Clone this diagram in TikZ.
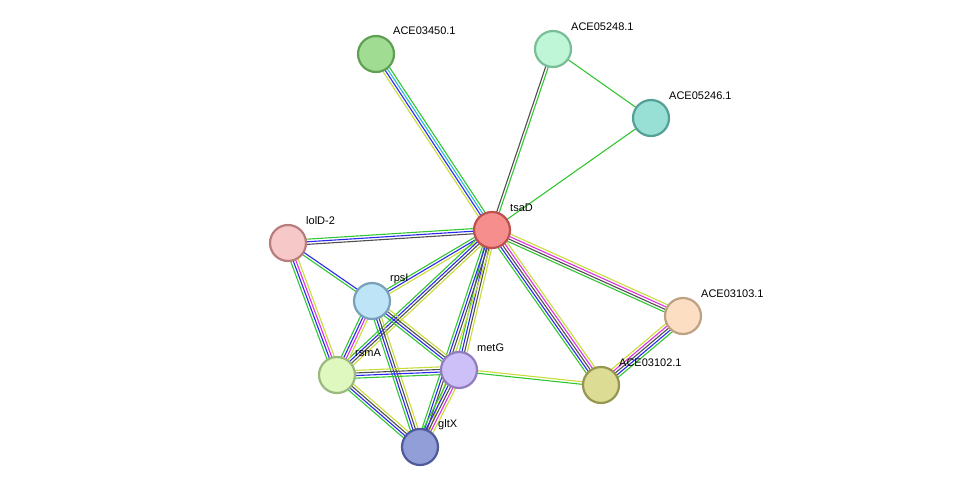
\documentclass[tikz,border=0pt]{standalone}
\usepackage{fontspec}
\setmainfont{Liberation Sans}
\usetikzlibrary{calc,backgrounds}
\definecolor{eg}{HTML}{33C633}
\definecolor{eb}{HTML}{2A2AEE}
\definecolor{ek}{HTML}{505050}
\definecolor{ey}{HTML}{C8DC3A}
\definecolor{em}{HTML}{E030E0}
\definecolor{ec}{HTML}{30B8D8}
\tikzset{
  prot/.style = {draw, circle, line width=2.2pt, minimum size=36pt, inner sep=0pt},
  lbl/.style  = {anchor=west, font=\fontsize{11}{13}\selectfont, inner sep=1pt},
}
\newcommand\link[4]{%
  \foreach \c [count=\i] in {#4}{%
    \pgfmathsetmacro\o{(\i-(#3+1)/2)*2.6}
    \draw[\c, line width=1.1pt] ($(#1)!\o pt!90:(#2)$) -- ($(#2)!\o pt!-90:(#1)$);
  }}
\begin{document}
\begin{tikzpicture}[x=1pt,y=-1pt]
  \useasboundingbox (0,0) rectangle (975,493);
  % proteins
  \node[prot, fill={rgb,255:red,160;green,220;blue,145}, draw={rgb,255:red,95;green,160;blue,85}] (a3450) at (376,54) {};
  \node[prot, fill={rgb,255:red,192;green,246;blue,216}, draw={rgb,255:red,120;green,190;blue,150}] (a5248) at (553,49) {};
  \node[prot, fill={rgb,255:red,152;green,224;blue,214}, draw={rgb,255:red,85;green,160;blue,150}] (a5246) at (651,118) {};
  \node[prot, fill={rgb,255:red,246;green,142;blue,142}, draw={rgb,255:red,190;green,80;blue,80}] (tsaD) at (492,230) {};
  \node[prot, fill={rgb,255:red,246;green,200;blue,200}, draw={rgb,255:red,185;green,125;blue,125}] (lolD) at (288,243) {};
  \node[prot, fill={rgb,255:red,190;green,228;blue,248}, draw={rgb,255:red,120;green,160;blue,185}] (rpsI) at (372,301) {};
  \node[prot, fill={rgb,255:red,252;green,222;blue,195}, draw={rgb,255:red,190;green,160;blue,130}] (a3103) at (683,316) {};
  \node[prot, fill={rgb,255:red,205;green,192;blue,248}, draw={rgb,255:red,145;green,125;blue,190}] (metG) at (459,370) {};
  \node[prot, fill={rgb,255:red,222;green,248;blue,192}, draw={rgb,255:red,155;green,185;blue,125}] (rsmA) at (337,375) {};
  \node[prot, fill={rgb,255:red,220;green,220;blue,148}, draw={rgb,255:red,150;green,150;blue,80}] (a3102) at (601,385) {};
  \node[prot, fill={rgb,255:red,145;green,158;blue,216}, draw={rgb,255:red,80;green,90;blue,155}] (gltX) at (420,447) {};
  % links
  \begin{scope}[on background layer]
    \link{tsaD}{a3450}{4}{eg,ec,eb,ey}
    \link{tsaD}{a5248}{2}{eg,ek}
    \link{a5248}{a5246}{1}{eg}
    \link{a5246}{tsaD}{1}{eg}
    \link{tsaD}{lolD}{3}{eg,eb,ek}
    \link{tsaD}{rpsI}{3}{eg,eb,ey}
    \link{tsaD}{rsmA}{4}{eg,eb,ek,ey}
    \link{tsaD}{metG}{4}{eg,eb,ek,ey}
    \link{tsaD}{gltX}{4}{eg,eb,ek,ey}
    \link{tsaD}{a3103}{4}{eg,ek,em,ey}
    \link{tsaD}{a3102}{5}{eg,eb,ek,em,ey}
    \link{a3102}{a3103}{5}{eg,eb,ek,em,ey}
    \link{metG}{a3102}{2}{eg,ey}
    \link{lolD}{rpsI}{2}{eg,eb}
    \link{lolD}{rsmA}{4}{eg,eb,em,ey}
    \link{rpsI}{rsmA}{4}{eg,eb,em,ey}
    \link{rpsI}{metG}{4}{eg,eb,ek,ey}
    \link{rpsI}{gltX}{4}{eg,eb,ek,ey}
    \link{rsmA}{metG}{4}{eg,eb,ek,ey}
    \link{rsmA}{gltX}{4}{eg,eb,ek,ey}
    \link{metG}{gltX}{5}{eg,eb,ek,em,ey}
  \end{scope}
  % labels
  \node[lbl] (l-a3450) at ($(a3450)+(16,-23)$) {ACE03450.1};
  \node[lbl] (l-a5248) at ($(a5248)+(17,-22)$) {ACE05248.1};
  \node[lbl] (l-a5246) at ($(a5246)+(17,-22)$) {ACE05246.1};
  \node[lbl] (l-tsaD) at ($(tsaD)+(17,-22)$) {tsaD};
  \node[lbl] (l-lolD) at ($(lolD)+(17,-22)$) {lolD-2};
  \node[lbl] (l-rpsI) at ($(rpsI)+(17,-22)$) {rpsI};
  \node[lbl] (l-a3103) at ($(a3103)+(17,-22)$) {ACE03103.1};
  \node[lbl] (l-metG) at ($(metG)+(17,-22)$) {metG};
  \node[lbl] (l-rsmA) at ($(rsmA)+(17,-22)$) {rsmA};
  \node[lbl] (l-a3102) at ($(a3102)+(17,-22)$) {ACE03102.1};
  \node[lbl] (l-gltX) at ($(gltX)+(17,-22)$) {gltX};
\end{tikzpicture}
\end{document}
